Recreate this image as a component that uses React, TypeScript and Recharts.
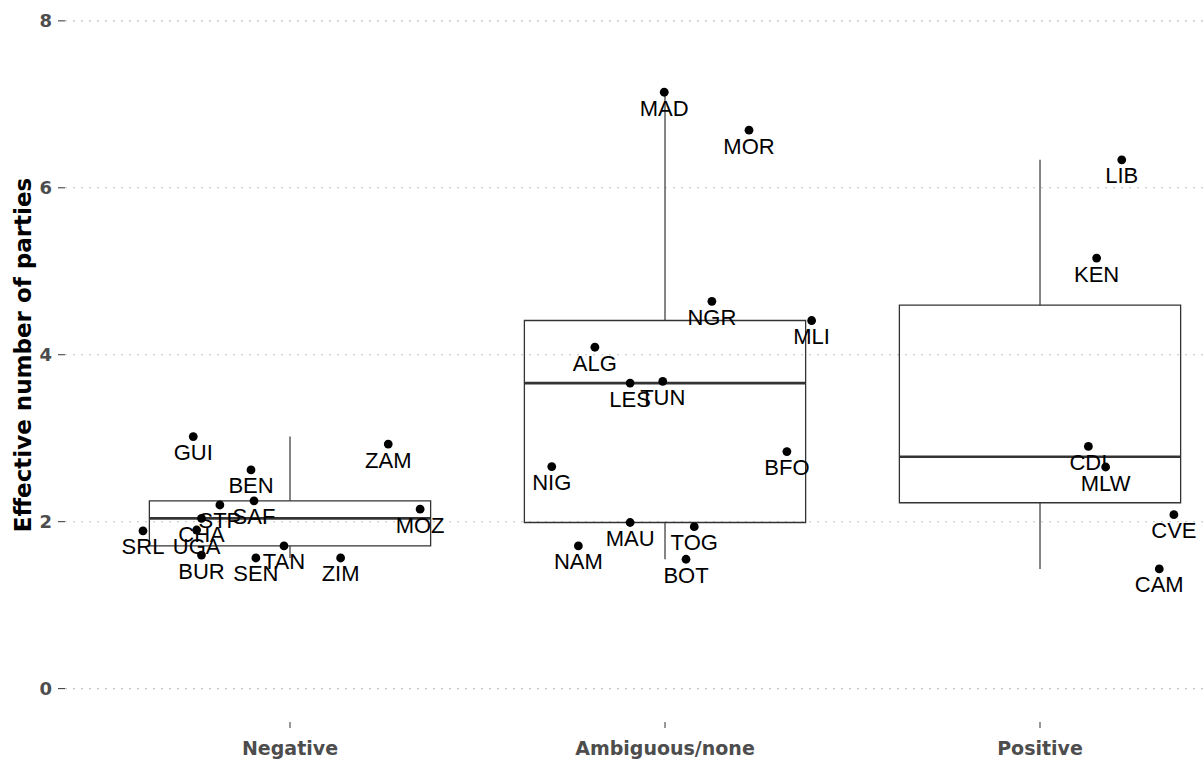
import React from "react";
import {
  ScatterChart,
  Scatter,
  XAxis,
  YAxis,
  CartesianGrid,
  ReferenceArea,
  ReferenceLine,
} from "recharts";

const groups = ["Negative", "Ambiguous/none", "Positive"];

const negativeCodes = ["GUI", "ZAM", "BEN", "SAF", "STP", "MOZ", "CHA", "UGA", "SRL", "BUR", "TAN", "SEN", "ZIM"];
const negativeValues = [3.02, 2.93, 2.62, 2.25, 2.2, 2.15, 2.04, 1.9, 1.89, 1.6, 1.71, 1.565, 1.565];
const negativeJitter = [-0.258, 0.262, -0.104, -0.096, -0.187, 0.347, -0.236, -0.249, -0.392, -0.236, -0.016, -0.091, 0.135];

const ambiguousCodes = ["MAD", "MOR", "NGR", "MLI", "ALG", "LES", "TUN", "BFO", "NIG", "MAU", "TOG", "NAM", "BOT"];
const ambiguousValues = [7.145, 6.69, 4.64, 4.41, 4.09, 3.66, 3.68, 2.84, 2.66, 1.99, 1.94, 1.71, 1.55];
const ambiguousJitter = [-0.002, 0.224, 0.125, 0.391, -0.187, -0.093, -0.006, 0.325, -0.302, -0.093, 0.078, -0.231, 0.056];

const positiveCodes = ["LIB", "KEN", "CDI", "MLW", "CVE", "CAM"];
const positiveValues = [6.335, 5.158, 2.902, 2.655, 2.084, 1.434];
const positiveJitter = [0.218, 0.151, 0.129, 0.175, 0.357, 0.318];

const yTicks = [0, 2, 4, 6, 8];

const groupData = [
  { codes: negativeCodes, values: negativeValues, jitter: negativeJitter },
  { codes: ambiguousCodes, values: ambiguousValues, jitter: ambiguousJitter },
  { codes: positiveCodes, values: positiveValues, jitter: positiveJitter },
];

const AXIS_FONT = "'DejaVu Sans', sans-serif";
const LABEL_FONT = "'Liberation Sans', Arial, sans-serif";
const BOX_HALF = 0.375;

// ggplot-style (type 7) quantile
function quantile(sorted: number[], p: number) {
  const h = (sorted.length - 1) * p;
  const lo = Math.floor(h);
  const hi = Math.ceil(h);
  return sorted[lo] + (h - lo) * (sorted[hi] - sorted[lo]);
}

function boxStats(values: number[]) {
  const s = [...values].sort((a, b) => a - b);
  const q1 = quantile(s, 0.25);
  const median = quantile(s, 0.5);
  const q3 = quantile(s, 0.75);
  const iqr = q3 - q1;
  const lower = Math.min(...s.filter((v) => v >= q1 - 1.5 * iqr));
  const upper = Math.max(...s.filter((v) => v <= q3 + 1.5 * iqr));
  return { q1, median, q3, lower, upper };
}

const boxes = groupData.map((g, i) => ({ pos: i + 1, ...boxStats(g.values) }));

const points = groupData.flatMap((g, i) =>
  g.codes.map((code, j) => ({ code, x: i + 1 + g.jitter[j], y: g.values[j] }))
);

const Dot = (props: any) => {
  const { cx, cy } = props;
  return <circle cx={cx} cy={cy} r={4.4} fill="#000" />;
};

const CodeLabel = (props: any) => {
  const { cx, cy, payload } = props;
  return (
    <text
      x={cx}
      y={cy + 23.5}
      textAnchor="middle"
      fontFamily={LABEL_FONT}
      fontSize={22}
      fill="#000"
    >
      {payload.code}
    </text>
  );
};

const GroupTick = (props: any) => {
  const { x, y, payload } = props;
  return (
    <text
      x={x}
      y={y + 25}
      textAnchor="middle"
      fontFamily={AXIS_FONT}
      fontWeight="bold"
      fontSize={19}
      fill="#4d4d4d"
    >
      {groups[payload.value - 1]}
    </text>
  );
};

export default function App() {
  return (
    <div style={{ position: "absolute", left: 0, top: 0, width: 1204, height: 760 }}>
      <ScatterChart width={1204} height={760} margin={{ top: 0, right: 0, bottom: 0, left: 0 }}>
        <CartesianGrid
          vertical={false}
          horizontalValues={yTicks}
          stroke="#c4c4c4"
          strokeDasharray="2 6"
          strokeWidth={1.1}
        />
        <XAxis
          type="number"
          dataKey="x"
          domain={[0.4, 3.4373]}
          allowDataOverflow
          ticks={[1, 2, 3]}
          axisLine={false}
          tickLine={{ stroke: "#333" }}
          tickSize={6}
          height={38}
          tick={<GroupTick />}
        />
        <YAxis
          type="number"
          dataKey="y"
          domain={[-0.4, 8.25]}
          allowDataOverflow
          ticks={yTicks}
          axisLine={false}
          tickLine={{ stroke: "#333" }}
          tickSize={7}
          tickMargin={6}
          width={65}
          tick={{ fontFamily: AXIS_FONT, fontWeight: "bold", fontSize: 18, fill: "#4d4d4d" }}
        />
        {boxes.map((b) => (
          <ReferenceLine
            key={`uw-${b.pos}`}
            segment={[{ x: b.pos, y: b.q3 }, { x: b.pos, y: b.upper }]}
            stroke="#333"
            strokeWidth={1.2}
          />
        ))}
        {boxes.map((b) => (
          <ReferenceLine
            key={`lw-${b.pos}`}
            segment={[{ x: b.pos, y: b.q1 }, { x: b.pos, y: b.lower }]}
            stroke="#333"
            strokeWidth={1.2}
          />
        ))}
        {boxes.map((b) => (
          <ReferenceArea
            key={`box-${b.pos}`}
            x1={b.pos - BOX_HALF}
            x2={b.pos + BOX_HALF}
            y1={b.q1}
            y2={b.q3}
            fill="#fff"
            fillOpacity={0}
            stroke="#333"
            strokeWidth={1.3}
          />
        ))}
        {boxes.map((b) => (
          <ReferenceLine
            key={`med-${b.pos}`}
            segment={[{ x: b.pos - BOX_HALF, y: b.median }, { x: b.pos + BOX_HALF, y: b.median }]}
            stroke="#333"
            strokeWidth={2.6}
          />
        ))}
        <Scatter data={points} shape={<Dot />} isAnimationActive={false} />
        <Scatter data={points} shape={<CodeLabel />} isAnimationActive={false} />
      </ScatterChart>
      <div
        style={{
          position: "absolute",
          left: 23,
          top: 355,
          transform: "translate(-50%, -50%) rotate(-90deg)",
          whiteSpace: "nowrap",
          fontFamily: AXIS_FONT,
          fontWeight: "bold",
          fontSize: 23,
          lineHeight: "26px",
          color: "#000",
        }}
      >
        Effective number of parties
      </div>
    </div>
  );
}
